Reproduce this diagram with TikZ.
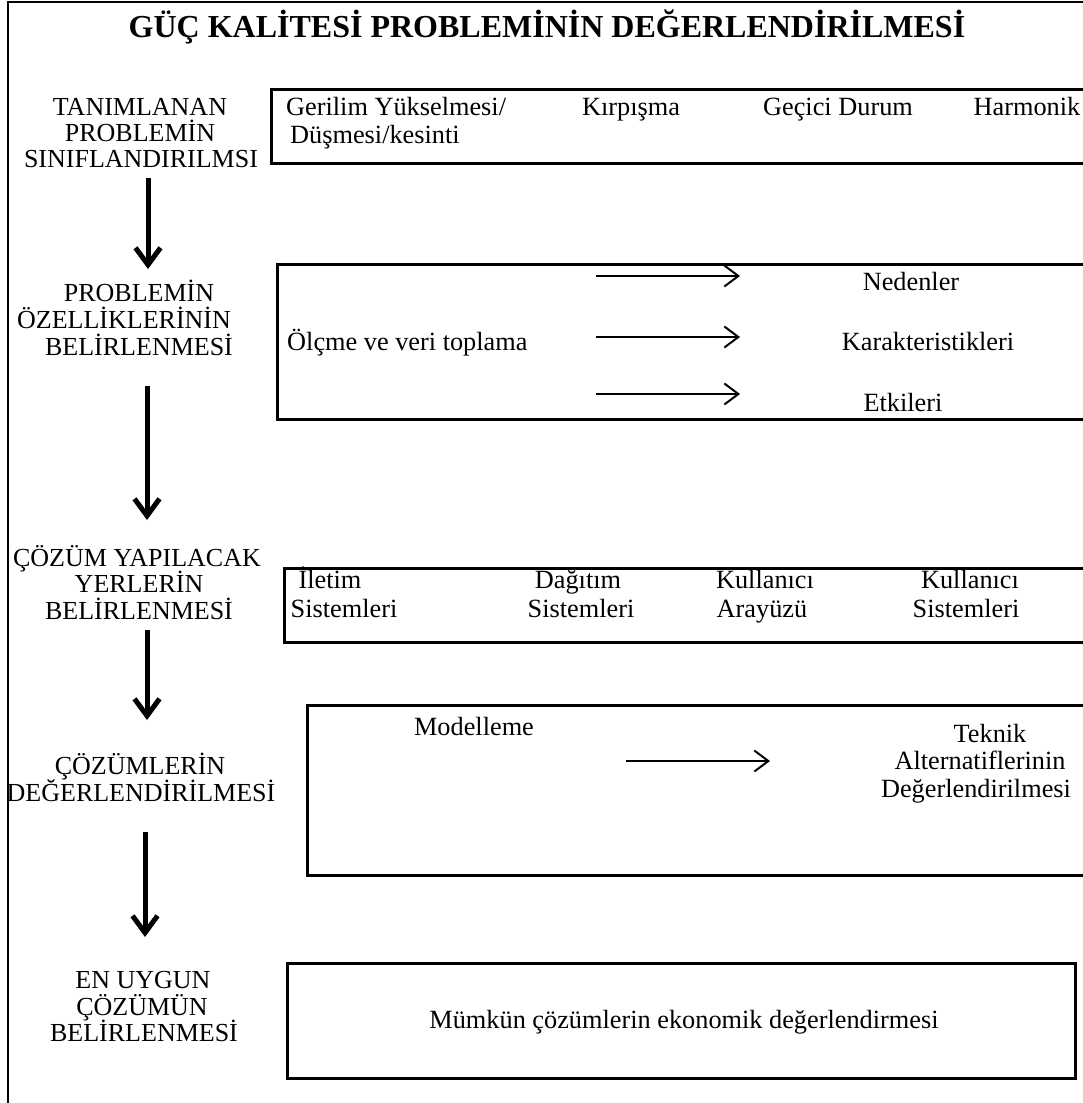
\documentclass[tikz,border=0pt]{standalone}
\usepackage{fontspec}
\setmainfont{Liberation Serif}
\usetikzlibrary{arrows.meta}
\begin{document}
\begin{tikzpicture}[x=1pt,y=-1pt,
  one/.style={font=\fontsize{26.3}{27}\selectfont, inner sep=0pt, anchor=base},
  lab/.style={font=\fontsize{26}{27}\selectfont, inner sep=0pt, anchor=base},
  box/.style={draw, line width=3pt, inner sep=0pt, anchor=north west},
  bigarrow/.style={line width=5pt, -{Straight Barb[length=17pt,width=25pt]}},
  thinarrow/.style={line width=2pt, -{Straight Barb[length=14pt,width=21pt]}}]
\useasboundingbox (0,0) rectangle (1083,1103);
\clip (0,0) rectangle (1083,1103);
\draw[line width=2.5pt] (8,2) rectangle (1100,1120);
\node[font=\fontsize{32}{36}\bfseries\selectfont, inner sep=0pt, anchor=base] (title) at (547,37) {GÜÇ KALİTESİ PROBLEMİNİN DEĞERLENDİRİLMESİ};
% boxes
\node[box, minimum width=830pt, minimum height=74pt] (b1) at (270,88) {};
\node[box, minimum width=820pt, minimum height=155pt] (b2) at (276,263) {};
\node[box, minimum width=820pt, minimum height=74pt] (b3) at (283,567) {};
\node[box, minimum width=800pt, minimum height=170pt] (b4) at (306,704) {};
\node[box, minimum width=788pt, minimum height=115pt] (b5) at (286,962) {};
% left labels
\node[lab] (l1a) at (140,115) {TANIMLANAN};
\node[lab] (l1b) at (140,141) {PROBLEMİN};
\node[lab] (l1c) at (141,167) {SINIFLANDIRILMSI};
\node[lab] (l2a) at (139,301) {PROBLEMİN};
\node[lab] (l2b) at (124,328) {ÖZELLİKLERİNİN};
\node[lab] (l2c) at (139,355) {BELİRLENMESİ};
\node[lab] (l3a) at (137,566) {ÇÖZÜM YAPILACAK};
\node[lab] (l3b) at (139,592) {YERLERİN};
\node[lab] (l3c) at (139,619) {BELİRLENMESİ};
\node[lab] (l4a) at (140,774) {ÇÖZÜMLERİN};
\node[lab] (l4b) at (141,801) {DEĞERLENDİRİLMESİ};
\node[lab] (l5a) at (143,988) {EN UYGUN};
\node[lab] (l5b) at (142,1015) {ÇÖZÜMÜN};
\node[lab] (l5c) at (144,1041) {BELİRLENMESİ};
% big arrows
\coordinate (a1s) at (148,178); \coordinate (a1e) at (148,269);
\coordinate (a2s) at (147,386); \coordinate (a2e) at (147,520);
\coordinate (a3s) at (147,630); \coordinate (a3e) at (147,720);
\coordinate (a4s) at (145,832); \coordinate (a4e) at (145,937);
\draw[bigarrow] (a1s) -- (a1e);
\draw[bigarrow] (a2s) -- (a2e);
\draw[bigarrow] (a3s) -- (a3e);
\draw[bigarrow] (a4s) -- (a4e);
% box 1
\node[one, anchor=base west] (g1) at (286,115) {Gerilim Yükselmesi/};
\node[one, anchor=base west] (g2) at (290,143) {Düşmesi/kesinti};
\node[one] (kp) at (631,115) {Kırpışma};
\node[one] (gd) at (838,115) {Geçici Durum};
\node[one] (hm) at (1027,115) {Harmonik};
% box 2
\node[one, anchor=base west] (olc) at (287,350) {Ölçme ve veri toplama};
\node[one] (ned) at (911,290) {Nedenler};
\node[one] (kar) at (928,350) {Karakteristikleri};
\node[one] (etk) at (903,411) {Etkileri};
\coordinate (r1s) at (596,276); \coordinate (r1e) at (740,276);
\coordinate (r2s) at (596,337); \coordinate (r2e) at (740,337);
\coordinate (r3s) at (596,394); \coordinate (r3e) at (740,394);
\draw[thinarrow] (r1s) -- (r1e);
\draw[thinarrow] (r2s) -- (r2e);
\draw[thinarrow] (r3s) -- (r3e);
% box 3
\node[one] (il1) at (330,588) {İletim};
\node[one] (il2) at (344,617) {Sistemleri};
\node[one] (dg1) at (578,588) {Dağıtım};
\node[one] (dg2) at (581,617) {Sistemleri};
\node[one] (ka1) at (765,588) {Kullanıcı};
\node[one] (ka2) at (762,617) {Arayüzü};
\node[one] (ks1) at (970,588) {Kullanıcı};
\node[one] (ks2) at (966,617) {Sistemleri};
% box 4
\node[one] (mod) at (474,735) {Modelleme};
\coordinate (m1s) at (626,761); \coordinate (m1e) at (770,761);
\draw[thinarrow] (m1s) -- (m1e);
\node[one] (tk1) at (990,742) {Teknik};
\node[one] (tk2) at (980,769) {Alternatiflerinin};
\node[one] (tk3) at (976,797) {Değerlendirilmesi};
% box 5
\node[one] (mum) at (684,1028) {Mümkün çözümlerin ekonomik değerlendirmesi};
\end{tikzpicture}
\end{document}
